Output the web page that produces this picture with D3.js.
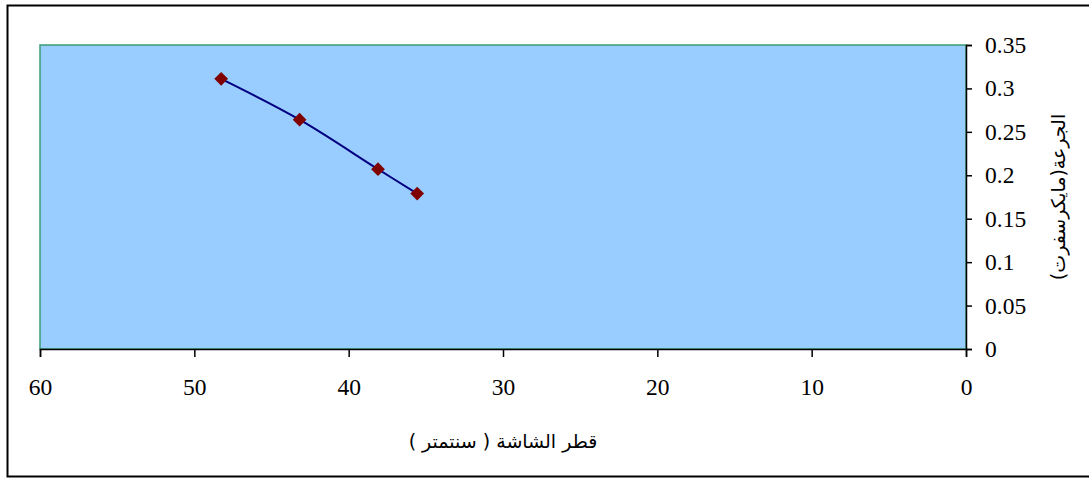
<!DOCTYPE html>
<html>
<head>
<meta charset="utf-8">
<script src="https://cdn.jsdelivr.net/npm/d3@7"></script>
<style>
  html, body { margin: 0; padding: 0; background: #ffffff; }
  svg { display: block; }
</style>
</head>
<body>
<svg id="chart" width="1089" height="480"></svg>
<script>
// ---- data ----
const screenDiameter = [48.26, 43.18, 38.1, 35.56];   // x values (cm)
const doseValues = [0.311, 0.264, 0.207, 0.179];       // y values
const xTicks = [60, 50, 40, 30, 20, 10, 0];
const yTicks = [0, 0.05, 0.1, 0.15, 0.2, 0.25, 0.3, 0.35];
const xTitle = "قطر الشاشة ( سنتمتر )";
const yTitle = "الجرعة(مايكرسفرت)";

const svg = d3.select("#chart");
const plot = { left: 40, right: 966, top: 45, bottom: 349 };

// outer chart border
svg.append("rect")
  .attr("x", 7.5).attr("y", 5.5)
  .attr("width", 1100).attr("height", 471)
  .attr("fill", "#ffffff").attr("stroke", "#000").attr("stroke-width", 2);

const x = d3.scaleLinear().domain([60, 0]).range([plot.left, plot.right]);
const y = d3.scaleLinear().domain([0, 0.35]).range([plot.bottom, plot.top]);

// plot area
svg.append("rect")
  .attr("x", plot.left).attr("y", plot.top)
  .attr("width", plot.right - plot.left).attr("height", plot.bottom - plot.top)
  .attr("fill", "#99ccff").attr("stroke", "#3a9a72").attr("stroke-width", 1.5);

const tickFont = "'Liberation Serif', 'Times New Roman', serif";

// x axis
const xAxis = d3.axisBottom(x).tickValues(xTicks).tickSize(8).tickPadding(21)
  .tickFormat(d3.format("d"));
const gx = svg.append("g").attr("transform", `translate(0,${plot.bottom})`).call(xAxis);
gx.select(".domain").attr("stroke", "#000").attr("stroke-width", 1.5);
gx.selectAll(".tick line").attr("stroke", "#000").attr("stroke-width", 1.5);
gx.selectAll("text").attr("font-family", tickFont)
  .attr("font-size", 23.5).attr("fill", "#000");

// y axis (right)
const yAxis = d3.axisRight(y).tickValues(yTicks).tickSize(6).tickPadding(13)
  .tickFormat(d => String(+d.toFixed(2)));
const gy = svg.append("g").attr("transform", `translate(${plot.right},0)`).call(yAxis);
gy.select(".domain").attr("stroke", "#000").attr("stroke-width", 1.5);
gy.selectAll(".tick line").attr("stroke", "#000").attr("stroke-width", 1.5);
gy.selectAll("text").attr("font-family", tickFont)
  .attr("font-size", 23.5).attr("fill", "#000");

// line
const pts = screenDiameter.map((d, i) => [d, doseValues[i]]);
const line = d3.line().x(d => x(d[0])).y(d => y(d[1])).curve(d3.curveCatmullRom.alpha(0.5));
svg.append("path").datum(pts)
  .attr("d", line).attr("fill", "none")
  .attr("stroke", "#000080").attr("stroke-width", 2);

// markers
svg.selectAll(".mk").data(pts).enter().append("path")
  .attr("class", "mk")
  .attr("d", d3.symbol().type(d3.symbolDiamond2).size(120))
  .attr("transform", d => `translate(${x(d[0])},${y(d[1])})`)
  .attr("fill", "#800000");

// axis titles
svg.append("text")
  .attr("x", (plot.left + plot.right) / 2).attr("y", 448)
  .attr("text-anchor", "middle").attr("direction", "rtl")
  .attr("font-family", "'DejaVu Sans', 'Noto Sans', sans-serif")
  .attr("font-size", 19).attr("fill", "#000")
  .text(xTitle);

svg.append("text")
  .attr("transform", `translate(1058,${(plot.top + plot.bottom) / 2}) rotate(-90)`)
  .attr("text-anchor", "middle").attr("dominant-baseline", "central")
  .attr("direction", "rtl")
  .attr("font-family", "'DejaVu Sans', 'Noto Sans', sans-serif")
  .attr("font-size", 19).attr("fill", "#000")
  .text(yTitle);
</script>
</body>
</html>
